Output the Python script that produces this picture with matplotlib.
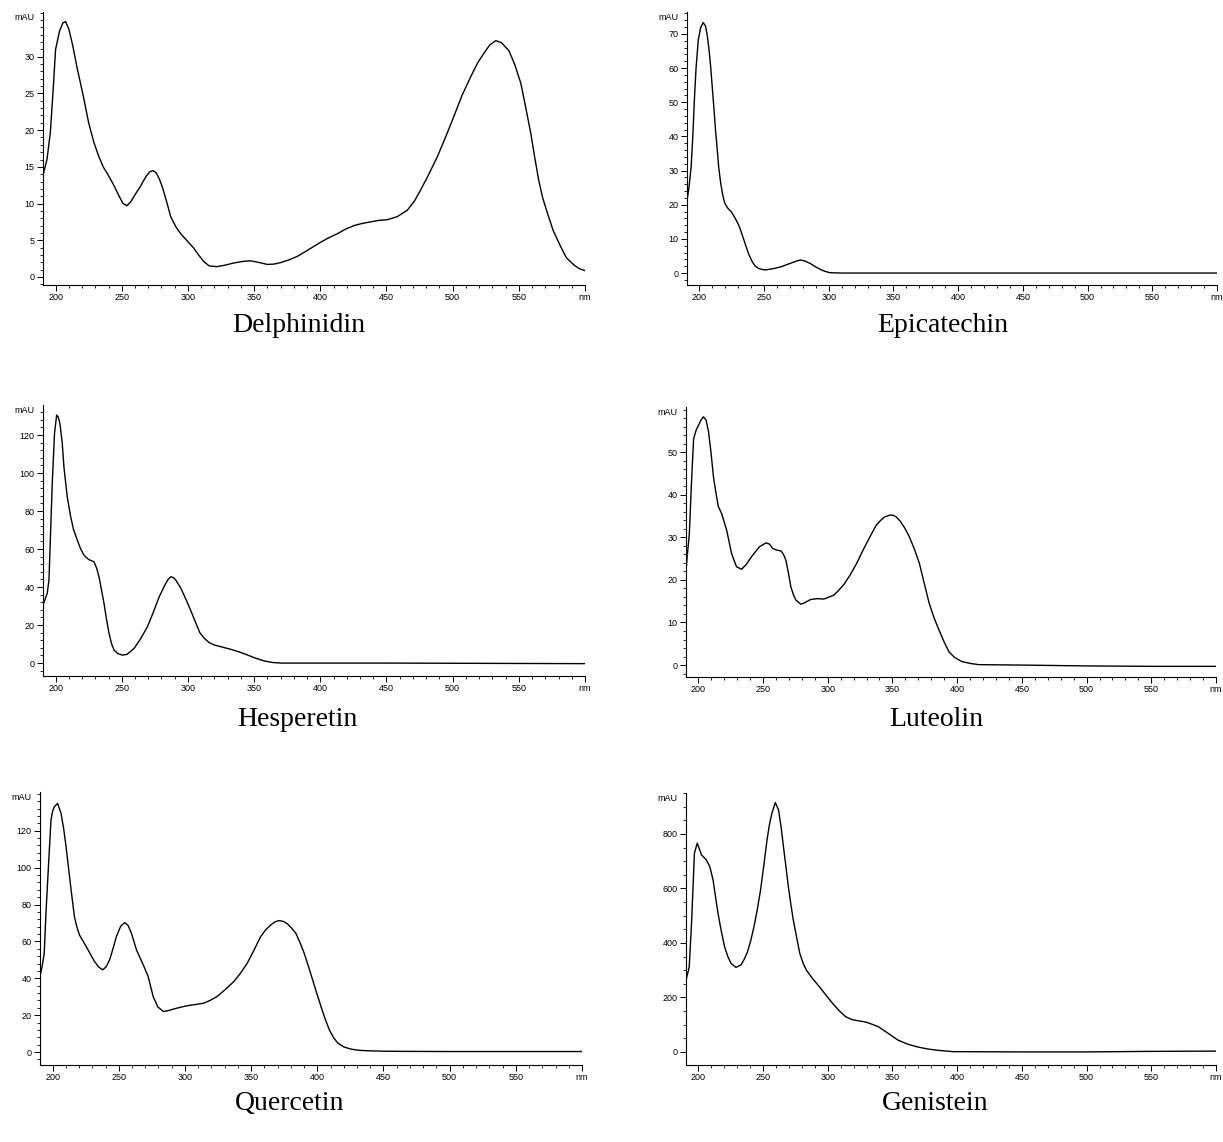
import matplotlib
matplotlib.use("Agg")
import matplotlib.pyplot as plt
from matplotlib.ticker import MultipleLocator

W, H = 1223, 1142

# spectra: wavelength (nm) / absorbance (mAU)
delph_nm = [191, 193.5, 196, 198, 200, 203, 205.5, 207.5, 210, 213, 216, 221, 225, 229, 232.5,
            236, 240, 244, 248, 251, 254, 257, 260, 264, 268, 271, 273.5, 276, 278.5, 280.6,
            284, 287, 291, 294.5, 299, 304.5, 308, 312, 316, 322, 328, 334.6, 341, 347, 353,
            360, 365, 370, 376, 382.7, 391, 400, 406, 413, 419, 425.5, 432, 438, 444, 450.7,
            458, 465.8, 471, 476, 482, 488.5, 495, 501, 507, 513.7, 519, 523.7, 528, 532.6,
            537, 542.6, 547, 551.5, 555, 559, 562, 565, 568, 571.6, 576, 581.7, 586, 591.8,
            596, 600]
delph_mau = [14.2, 16, 19.6, 25, 31, 33.5, 34.6, 34.8, 33.8, 31.5, 28.7, 24.6, 21, 18.3, 16.5,
             15, 13.8, 12.5, 11, 10, 9.7, 10.3, 11.2, 12.3, 13.6, 14.3, 14.5, 14.2, 13.3, 12.3,
             10.2, 8.2, 6.8, 5.9, 5, 3.9, 3, 2.1, 1.5, 1.4, 1.6, 1.9, 2.1, 2.2, 2,
             1.7, 1.75, 1.95, 2.3, 2.8, 3.7, 4.7, 5.3, 5.9, 6.5, 7, 7.3, 7.5, 7.7, 7.8,
             8.2, 9.1, 10.3, 11.9, 14, 16.4, 19.2, 21.9, 24.7, 27.3, 29.2, 30.5, 31.6, 32.2,
             31.9, 30.8, 28.9, 26.4, 23.3, 19.6, 16.3, 13.2, 10.8, 8.7, 6.3, 4.1, 2.6, 1.6,
             1.1, 0.86]

epi_nm = [190, 192, 193.7, 195, 196.2, 197.5, 199.2, 201, 203, 204.8, 206.3, 207.6, 208.8, 210,
          211.4, 212.6, 213.9, 215, 216.4, 218, 219.7, 222, 225, 227.8, 230.5, 232.8, 235.5,
          237.9, 240.5, 243, 246, 250.5, 256, 263, 270, 275, 278, 281, 285.8, 289, 293.4, 297,
          301, 310, 400, 500, 600]
epi_mau = [19.9, 25, 31.1, 40, 50.7, 60, 68.2, 71.8, 73.3, 72.3, 69.2, 65, 60.4, 54.5,
           47.7, 41.5, 36, 31, 26.7, 23, 20.4, 19, 17.8, 16, 14, 11.6, 8.5,
           5.8, 3.6, 2.1, 1.3, 0.9, 1.2, 1.8, 2.8, 3.5, 3.8, 3.6, 2.8, 2, 1.1, 0.5,
           0.1, 0, 0, 0, 0]

hesp_nm = [191, 193.7, 195, 196.2, 197.5, 199.2, 200.8, 202, 203.3, 205, 206.3, 208.8, 211.4,
           213.5, 216.4, 219, 221.4, 225, 229, 231, 232.8, 234.7, 236.6, 238.5, 240.4, 242.3,
           244.2, 247, 250.5, 254, 259.3, 264, 269.4, 274, 278.3, 282.5, 285, 287, 289, 291,
           294.7, 298.5, 302, 306, 309, 312.4, 316, 320, 326, 332.6, 339, 345.2, 351, 357.8,
           364, 370.5, 400, 450, 500, 550, 600]
hesp_mau = [31.4, 36.7, 43.7, 68.3, 94.6, 120.9, 130.5, 129.5, 126, 116, 103.3, 87.5, 77,
            70.5, 64.7, 60, 56.8, 54.5, 53.3, 50, 45.4, 38.5, 31.4, 23, 15.6, 10.2,
            6.8, 5, 4.2, 4.6, 7.7, 12.5, 19.1, 27, 34.9, 41, 44, 45.4, 45, 43.5,
            39.3, 33.5, 27.9, 21, 16, 13, 10.8, 9.5, 8.4, 7.2, 5.8, 4.2, 2.6, 1.1,
            0.3, 0, 0, 0, -0.1, -0.2, -0.3]

lut_nm = [190, 191.4, 193.1, 194.7, 196.4, 198.5, 200.2, 202, 204, 206, 207.9, 209.8, 211.7,
          213.6, 215.5, 218, 221.9, 225.7, 229.5, 233.4, 237, 241, 247.3, 252.4, 255, 257.5,
          260.5, 263.9, 265.8, 267.7, 269.6, 271.5, 273.4, 275.3, 279.2, 282, 286.8, 292, 297,
          304.6, 308, 312.2, 317, 322.4, 326, 330, 334, 337.6, 341, 344, 347.9, 350.5, 352.9,
          356, 359.5, 363.1, 367, 370.8, 374.5, 378.4, 382, 386, 390, 393.7, 398, 403.8, 410,
          416.6, 450, 500, 550, 600]
lut_mau = [20, 25.4, 30.9, 42.7, 53.2, 55.3, 56.3, 57.5, 58.3, 57.5, 54.8, 50, 44.2,
           40.5, 37.2, 35.6, 31.7, 26.2, 23.1, 22.5, 23.6, 25.4, 27.8, 28.7, 28.4, 27.4,
           27, 26.8, 26, 24.6, 21.7, 18.4, 16.6, 15.3, 14.3, 14.6, 15.4, 15.6, 15.5,
           16.4, 17.4, 18.8, 21, 23.9, 26.2, 28.6, 30.9, 32.9, 34, 34.8, 35.2, 35.2, 34.8,
           33.8, 32.2, 30.1, 27.2, 23.9, 19.3, 14.5, 11.2, 8.2, 5.4, 3.1, 1.8, 0.8, 0.4,
           0.1, 0, -0.2, -0.3, -0.3]

quer_nm = [190.4, 192, 193.7, 195, 197, 198.8, 200, 201.3, 203.8, 206.4, 208.3, 210.2, 212.1,
           214, 216.5, 218.5, 220.3, 225.4, 231.7, 235, 238, 240.5, 243.1, 245.5, 248.2, 251.5,
           254.5, 257, 259.6, 263.4, 268.5, 272.2, 276, 279.5, 283.7, 287, 291.3, 296, 301.4,
           308, 314.1, 319, 324.2, 330, 336.9, 342, 347.1, 352, 357.2, 361, 364.8, 368, 371.1,
           374.5, 377.5, 380.5, 383.8, 387, 390.1, 393.3, 396.5, 399.7, 402.8, 406, 409.1,
           412.3, 415.5, 420, 425.6, 431, 438.3, 450, 461, 500, 550, 600]
quer_mau = [41, 46, 53.6, 75.3, 102.3, 125.8, 130.5, 133, 134.8, 129.4, 121.5, 111.3, 99.5,
            87.9, 73.4, 67.5, 63.5, 57.2, 49.1, 46, 44.6, 46.3, 50, 55.7, 62.6, 68.3,
            70.2, 68.7, 64.4, 55.4, 47.3, 41, 30.1, 24.5, 22, 22.4, 23.3, 24.2, 25.1,
            25.8, 26.5, 28, 30.1, 33.6, 38.2, 42.8, 48.2, 55, 62.6, 66.3, 68.9, 70.6, 71.3,
            70.8, 69.5, 67.3, 64.4, 59.3, 53.6, 46.5, 39.1, 31.7, 24.7, 17.8, 12.1,
            7.8, 4.9, 2.8, 1.6, 1, 0.7, 0.5, 0.4, 0.3, 0.3, 0.3]

gen_nm = [189.9, 193, 194.9, 197, 199.2, 200.8, 202.5, 206.3, 208.9, 211.4, 213.3, 215.2, 217.7,
          220.3, 222.8, 225.3, 229.1, 232.9, 235.5, 238, 240.5, 243, 245.5, 248.1, 250.6, 253.1,
          255, 256.9, 259.5, 262, 263.9, 265.8, 267.7, 269.6, 271.5, 273.4, 276, 278.4, 281,
          283.5, 288.5, 293.6, 298.7, 303.8, 308.9, 313.9, 319, 324, 329.1, 334, 339.2, 346.8,
          354.4, 362, 369.6, 377, 384.7, 397, 450, 500, 550, 600]
gen_mau = [251, 312, 484, 729, 766, 745, 723, 704, 680, 631, 570, 509, 445,
           386, 350, 325, 310, 319, 340, 367, 408, 459, 520, 594, 683, 778,
           835, 876, 915, 888, 828, 753, 680, 606, 542, 484, 420, 362, 325,
           300, 268, 239, 208, 178, 151, 129, 118, 114, 110, 102, 92, 68,
           43, 28, 18, 11, 6, 1, 0, 0, 2, 3]

NAMES = ["Delphinidin", "Epicatechin", "Hesperetin", "Luteolin", "Quercetin", "Genistein"]

# layout in pixels: left, top, right, bottom of each plot box; ylim; y tick steps
PANELS = [
    (delph_nm, delph_mau, (43, 12, 585, 285), (-1.1, 36.1), 5, 1),
    (epi_nm, epi_mau, (687, 12, 1217, 285), (-3.5, 76.4), 10, 2),
    (hesp_nm, hesp_mau, (43, 405, 585, 676), (-6.8, 135.8), 20, 4),
    (lut_nm, lut_mau, (686, 407, 1216, 677), (-2.8, 60.6), 10, 2),
    (quer_nm, quer_mau, (40, 792, 582, 1065), (-7, 141), 20, 4),
    (gen_nm, gen_mau, (686, 793, 1216, 1065), (-48, 950), 200, 50),
]
TITLE_POS = [(299, 325), (943, 325), (297, 719), (936, 719), (290, 1103), (935, 1103)]

fig = plt.figure(figsize=(W / 100, H / 100), dpi=100)

for (nm, mau, box, ylim, major, minor), name, (tx, ty) in zip(PANELS, NAMES, TITLE_POS):
    l, t, r, b = box
    ax = fig.add_axes([l / W, 1 - b / H, (r - l) / W, (b - t) / H])
    ax.plot(nm, mau, color="black", lw=1.0)
    ax.set_xlim(190.5, 600)
    ax.set_ylim(*ylim)
    for s in ("top", "right"):
        ax.spines[s].set_visible(False)
    for s in ("left", "bottom"):
        ax.spines[s].set_linewidth(0.8)
    ax.set_xticks([200, 250, 300, 350, 400, 450, 500, 550, 600])
    ax.set_xticklabels(["200", "250", "300", "350", "400", "450", "500", "550", "nm"],
                       family="Liberation Sans", fontsize=6.5)
    ax.xaxis.set_minor_locator(MultipleLocator(10))
    ax.yaxis.set_major_locator(MultipleLocator(major))
    ax.yaxis.set_minor_locator(MultipleLocator(minor))
    ax.set_yticks([v for v in ax.get_yticks() if 0 <= v <= ylim[1] - 0.5 * major])
    ax.set_ylim(*ylim)
    for lab in ax.get_yticklabels():
        lab.set_family("Liberation Sans")
        lab.set_fontsize(6.5)
    ax.tick_params(which="major", direction="out", length=4, width=0.7, pad=2)
    ax.tick_params(which="minor", direction="out", length=2, width=0.6)
    ax.annotate("mAU", xy=(0, 1), xycoords="axes fraction", xytext=(-8, -1),
                textcoords="offset pixels", ha="right", va="top",
                family="Liberation Sans", fontsize=6.5)
    fig.text(tx / W, 1 - ty / H, name, ha="center", va="center",
             family="Liberation Serif", fontsize=20)

fig.savefig("out.png", dpi=100)
